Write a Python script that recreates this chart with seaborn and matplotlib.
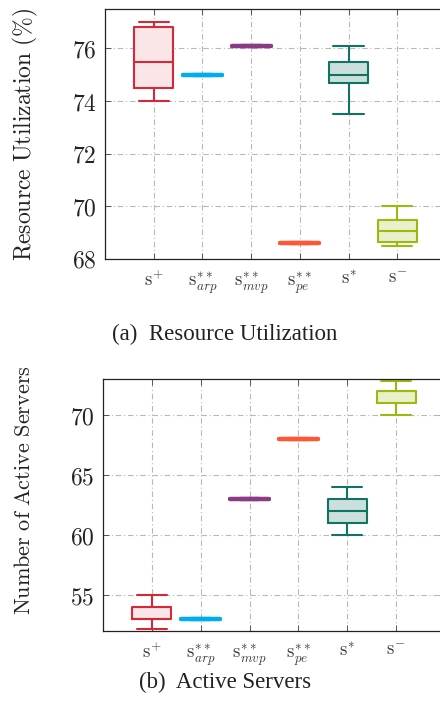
import numpy as np
import pandas as pd
import matplotlib
matplotlib.use("Agg")
import matplotlib.pyplot as plt
import seaborn as sns
from matplotlib.colors import to_rgb

# ---- data ----
cats = ["S+", "S**arp", "S**mvp", "S**pe", "S*", "S-"]
tick_labels = [r"$\mathrm{s}^{+}$", r"$\mathrm{s}^{**}_{arp}$", r"$\mathrm{s}^{**}_{mvp}$",
               r"$\mathrm{s}^{**}_{pe}$", r"$\mathrm{s}^{*}$", r"$\mathrm{s}^{-}$"]
colors = ["#D62839", "#00AEEF", "#8B3A86", "#FF5733", "#127362", "#9ABA0F"]
tints = [0.12, 0.18, 0.18, 0.18, 0.22, 0.22]

# five-number summaries (min, q1, median, q3, max)
util_splus = [74.0, 74.5, 75.5, 76.8, 77.0]
util_arp = [75.0, 75.0, 75.0, 75.0, 75.0]
util_mvp = [76.1, 76.1, 76.1, 76.1, 76.1]
util_pe = [68.6, 68.6, 68.6, 68.6, 68.6]
util_sstar = [73.5, 74.7, 75.0, 75.5, 76.1]
util_sminus = [68.5, 68.65, 69.05, 69.5, 70.0]

srv_splus = [52.2, 53.0, 53.0, 54.0, 55.0]
srv_arp = [53.0, 53.0, 53.0, 53.0, 53.0]
srv_mvp = [63.0, 63.0, 63.0, 63.0, 63.0]
srv_pe = [68.0, 68.0, 68.0, 68.0, 68.0]
srv_sstar = [60.0, 61.0, 62.0, 63.0, 64.0]
srv_sminus = [70.0, 71.0, 72.0, 72.0, 72.8]

util_yticks = [68, 70, 72, 74, 76]
srv_yticks = [55, 60, 65, 70]

def long_df(series):
    rows = []
    for c, vals in zip(cats, series):
        for v in vals:
            rows.append((c, v))
    return pd.DataFrame(rows, columns=["cat", "val"])

util_df = long_df([util_splus, util_arp, util_mvp, util_pe, util_sstar, util_sminus])
srv_df = long_df([srv_splus, srv_arp, srv_mvp, srv_pe, srv_sstar, srv_sminus])

strong = {c: col for c, col in zip(cats, colors)}
light = {}
for c, col, t in zip(cats, colors, tints):
    r = np.array(to_rgb(col))
    light[c] = tuple(t * r + (1 - t) * np.ones(3))

sns.set_theme(style="white")
plt.rcParams["mathtext.fontset"] = "cm"
plt.rcParams["font.family"] = ["DejaVu Serif"]

fig = plt.figure(figsize=(4.4, 7.12), dpi=100)
ax1 = fig.add_axes([105 / 440, 1 - 259 / 712, 341 / 440, 250 / 712])
ax2 = fig.add_axes([103 / 440, 1 - 631 / 712, 342 / 440, 252 / 712])

def draw(ax, df, ylim, yticks, ylabel, label_size, label_x, label_y):
    degenerate = df.groupby("cat")["val"].transform(lambda s: s.max() - s.min()) == 0
    # light fills
    sns.boxplot(data=df, x="cat", y="val", hue="cat", order=cats, hue_order=cats,
                palette=light, saturation=1, fill=True, linewidth=0, width=0.8,
                whis=(0, 100), showfliers=False, legend=False, ax=ax)
    # outlines
    sns.boxplot(data=df[~degenerate], x="cat", y="val", hue="cat", order=cats, hue_order=cats,
                palette=strong, saturation=1, fill=False, linewidth=1.5, width=0.8,
                whis=(0, 100), showfliers=False, legend=False, capwidths=0.62, ax=ax)
    # single-valued categories as thick lines
    sns.boxplot(data=df[degenerate], x="cat", y="val", hue="cat", order=cats, hue_order=cats,
                palette=strong, saturation=1, fill=False, linewidth=3.0, width=0.8,
                whis=(0, 100), showfliers=False, legend=False, ax=ax)
    ax.set_xlim(-1, 6)
    ax.set_ylim(*ylim)
    ax.set_yticks(yticks)
    ax.set_yticklabels([rf"${v}$" for v in yticks], fontsize=17, color="#222222")
    ax.set_xticks(range(len(cats)))
    ax.set_xticklabels(tick_labels, fontsize=13.5, color="#3a3a3a")
    ax.set_xlabel("")
    ax.set_ylabel(r"$\mathrm{" + ylabel + "}$", fontsize=label_size, color="#222222")
    ax.yaxis.set_label_coords(label_x, label_y)
    ax.set_axisbelow(True)
    ax.grid(True, color="#b8b8b8", linestyle=(0, (5, 2.5, 1, 2.5)), linewidth=0.8)
    ax.tick_params(direction="in", length=4, width=0.7, top=True, right=True,
                   bottom=True, left=True, color="#555555", pad=6)
    ax.tick_params(axis="x", pad=8)
    for s in ax.spines.values():
        s.set_color("#222222")
        s.set_linewidth(0.9)

draw(ax1, util_df, (68, 77.5), util_yticks, r"Resource\ Utilization\ (\%)", 17, -0.19, 0.5)
draw(ax2, srv_df, (52, 73), srv_yticks, r"Number\ of\ Active\ Servers", 16, -0.2, 0.56)

fig.text(225 / 440, 1 - 334 / 712, "(a)  Resource Utilization", ha="center", va="center",
         fontsize=16.5, family=["Liberation Serif", "DejaVu Serif"], color="#222222")
fig.text(225 / 440, 1 - 682 / 712, "(b)  Active Servers", ha="center", va="center",
         fontsize=16.5, family=["Liberation Serif", "DejaVu Serif"], color="#222222")

fig.savefig("out.png", dpi=100)
